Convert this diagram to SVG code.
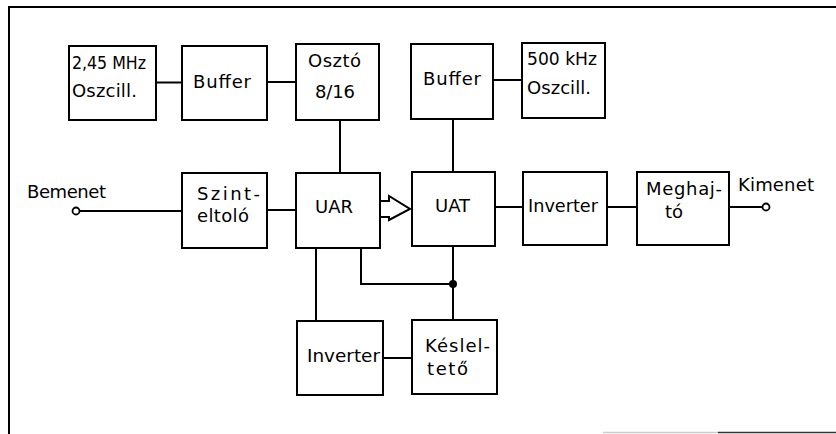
<svg xmlns="http://www.w3.org/2000/svg" width="836" height="434" viewBox="0 0 836 434">
<style>
.box{fill:#fff;stroke:#000;stroke-width:2}
.ln{fill:none;stroke:#000;stroke-width:2}
text{font-family:"DejaVu Sans","Liberation Sans",sans-serif;font-size:18px;fill:#000}
</style>
<rect width="836" height="434" fill="#fff"/>
<g id="frame">
<path class="ln" d="M9,434 V7 H836"/>
<path d="M603,432.5 H718" stroke="#ccc" stroke-width="1.5"/>
<path d="M718,432.5 H836" stroke="#333" stroke-width="1.5"/>
</g>
<g id="connectors">
<path class="ln" d="M156,82.5 H182"/>
<path class="ln" d="M267,82 H296"/>
<path class="ln" d="M493,80 H522"/>
<path class="ln" d="M340,120 V173"/>
<path class="ln" d="M453,119 V172"/>
<path class="ln" d="M80,211 H182"/>
<path class="ln" d="M267,210 H296"/>
<path class="ln" d="M379,201 H389 V196 L410,209 L389,220 V217 H379"/>
<path class="ln" d="M495,207 H523"/>
<path class="ln" d="M607,207 H637"/>
<path class="ln" d="M729,207 H762"/>
<path class="ln" d="M316,248 V321"/>
<path class="ln" d="M361,248 V284 H453"/>
<path class="ln" d="M453,246 V320"/>
<path class="ln" d="M383,358 H412"/>
<circle cx="453" cy="284" r="4" fill="#000"/>
<circle cx="76" cy="211" r="3.5" fill="#fff" stroke="#000" stroke-width="1.8"/>
<circle cx="766" cy="207" r="3.5" fill="#fff" stroke="#000" stroke-width="1.8"/>
</g>
<g id="osc245">
<rect class="box" x="69" y="46" width="87" height="74"/>
<text x="72" y="69" textLength="74" lengthAdjust="spacingAndGlyphs">2,45 MHz</text>
<text x="72" y="97" textLength="65" lengthAdjust="spacing">Oszcill.</text>
</g>
<g id="buffer1">
<rect class="box" x="182" y="46" width="85" height="74"/>
<text x="193" y="88" textLength="58" lengthAdjust="spacing">Buffer</text>
</g>
<g id="oszto">
<rect class="box" x="296" y="44" width="83" height="76"/>
<text x="308" y="67" textLength="53" lengthAdjust="spacing">Osztó</text>
<text x="315" y="98" textLength="40" lengthAdjust="spacing">8/16</text>
</g>
<g id="buffer2">
<rect class="box" x="411" y="44" width="82" height="75"/>
<text x="423" y="85" textLength="58" lengthAdjust="spacing">Buffer</text>
</g>
<g id="osc500">
<rect class="box" x="522" y="43" width="83" height="75"/>
<text x="527" y="65" textLength="70" lengthAdjust="spacingAndGlyphs">500 kHz</text>
<text x="527" y="94" textLength="64" lengthAdjust="spacing">Oszcill.</text>
</g>
<g id="bemenet">
<text x="27" y="198" textLength="79" lengthAdjust="spacing">Bemenet</text>
</g>
<g id="szinteltolo">
<rect class="box" x="182" y="173" width="85" height="75"/>
<text x="197" y="200" textLength="63" lengthAdjust="spacing">Szint-</text>
<text x="197" y="222" textLength="52" lengthAdjust="spacing">eltoló</text>
</g>
<g id="uar">
<rect class="box" x="296" y="173" width="84" height="75"/>
<text x="315" y="213">UAR</text>
</g>
<g id="uat">
<rect class="box" x="412" y="172" width="83" height="74"/>
<text x="435" y="212">UAT</text>
</g>
<g id="inverter1">
<rect class="box" x="523" y="172" width="84" height="73"/>
<text x="528" y="212" textLength="70" lengthAdjust="spacingAndGlyphs">Inverter</text>
</g>
<g id="meghajto">
<rect class="box" x="637" y="172" width="92" height="73"/>
<text x="646" y="195" textLength="76" lengthAdjust="spacing">Meghaj-</text>
<text x="665" y="218">tó</text>
</g>
<g id="kimenet">
<text x="738" y="191" textLength="76" lengthAdjust="spacing">Kimenet</text>
</g>
<g id="inverter2">
<rect class="box" x="297" y="321" width="86" height="74"/>
<text x="307" y="362" textLength="73" lengthAdjust="spacingAndGlyphs">Inverter</text>
</g>
<g id="keslelteto">
<rect class="box" x="412" y="320" width="85" height="74"/>
<text x="425" y="352" textLength="65" lengthAdjust="spacing">Késlel-</text>
<text x="427" y="375" textLength="41" lengthAdjust="spacing">tető</text>
</g>
</svg>
